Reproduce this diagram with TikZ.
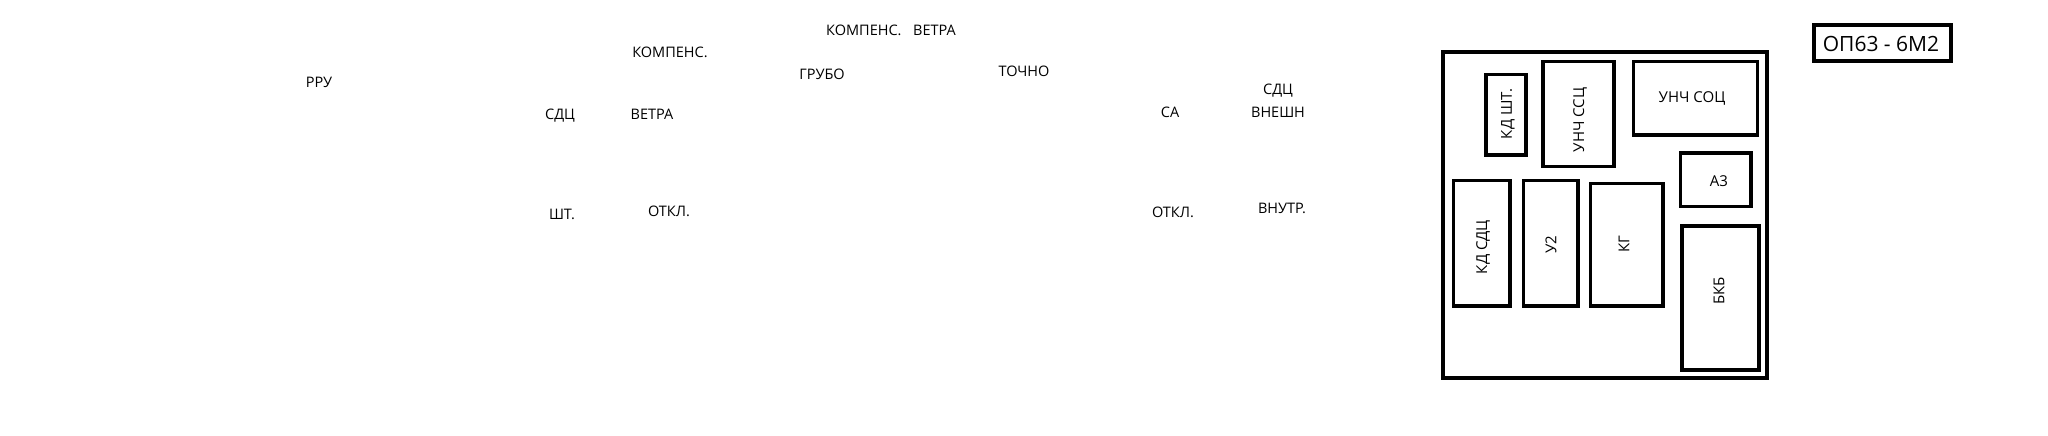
\documentclass[tikz,border=0pt]{standalone}
\usepackage{fontspec}
\setmainfont{Open Sans}
\begin{document}
\begin{tikzpicture}[x=1pt,y=-1pt,
  lbl/.style={anchor=base,inner sep=0pt,font=\fontsize{14.5}{15}\selectfont},
  box/.style={draw,line width=3.6pt,inner sep=0pt},
  btxt/.style={inner sep=0pt,font=\fontsize{15}{16}\selectfont},
  rtxt/.style={inner sep=0pt,rotate=90,font=\fontsize{15}{16}\selectfont}]
\useasboundingbox[fill=white] (0,0) rectangle (2048,436);
% free labels
\node[lbl] (rru) at (319,88) {РРУ};
\node[lbl] (sdc1) at (560,119) {СДЦ};
\node[lbl] (vetra1) at (652,119) {ВЕТРА};
\node[lbl] (sht) at (562,219) {ШТ.};
\node[lbl] (otkl1) at (669,216) {ОТКЛ.};
\node[lbl] (komp1) at (670,58) {КОМПЕНС.};
\node[lbl] (komp2) at (891,36) {КОМПЕНС.\hspace{0.8em}ВЕТРА};
\node[lbl] (grubo) at (822,79) {ГРУБО};
\node[lbl] (tochno) at (1024,77) {ТОЧНО};
\node[lbl] (sa) at (1170,117) {СА};
\node[lbl] (sdc2) at (1278,95) {СДЦ};
\node[lbl] (vnesh) at (1278,117) {ВНЕШН};
\node[lbl] (otkl2) at (1173,217) {ОТКЛ.};
\node[lbl] (vnutr) at (1282,213) {ВНУТР.};
% title box
\node[box,minimum width=137pt,minimum height=36pt] (title) at (1882.2,43.3) {};
\node[anchor=base,inner sep=0pt,font=\fontsize{21}{22}\selectfont] (titletext) at (1881,51.7) {ОП63 - 6М2};
% outer frame
\node[box,minimum width=324pt,minimum height=326.3pt] (frame) at (1604.7,214.9) {};
% inner boxes
\node[box,minimum width=40pt,minimum height=80.7pt] (kdsht) at (1505.7,114.7) {};
\node[rtxt] at (1508,114) {КД ШТ.};
\node[box,minimum width=71.3pt,minimum height=104.6pt] (unchssc) at (1578.4,114) {};
\node[rtxt] at (1580,120) {УНЧ ССЦ};
\node[box,minimum width=124pt,minimum height=73pt] (unchsoc) at (1695.3,98.2) {};
\node[btxt] at (1692,98) {УНЧ СОЦ};
\node[box,minimum width=70.4pt,minimum height=53.6pt] (a3) at (1715.5,179.5) {};
\node[btxt] at (1719,181) {А3};
\node[box,minimum width=56.7pt,minimum height=125.4pt] (kdsdc) at (1481.7,243) {};
\node[rtxt] at (1483,247) {КД СДЦ};
\node[box,minimum width=54.7pt,minimum height=125.4pt] (u2) at (1550.7,243) {};
\node[rtxt] at (1551,245) {У2};
\node[box,minimum width=72.7pt,minimum height=122.4pt] (kg) at (1626.7,244.5) {};
\node[rtxt] at (1624,244) {КГ};
\node[box,minimum width=77.3pt,minimum height=144pt] (bkb) at (1720.4,298) {};
\node[rtxt] at (1719,291) {БКБ};
\end{tikzpicture}
\end{document}
